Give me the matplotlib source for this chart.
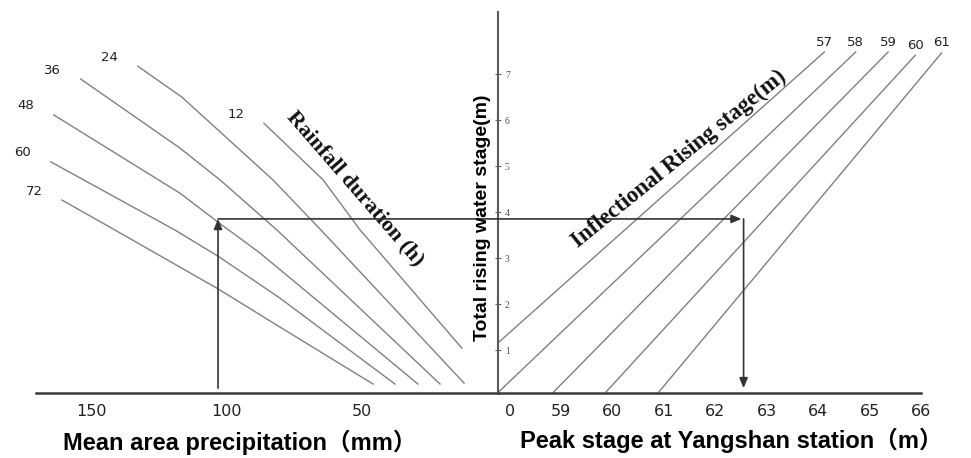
from pathlib import Path

import matplotlib.pyplot as plt

# left panel: rainfall duration curves (precipitation mm vs total rise m)
rain_hours = [72, 60, 48, 36, 24, 12]
rain_precip = [
    [161.1, 141.5, 103.3, 80.4, 45.9],
    [165.2, 119.3, 103.3, 80.4, 37.8],
    [164.1, 117.4, 103.3, 87.8, 29.3],
    [154.1, 117.4, 102.6, 81.5, 21.1],
    [133.0, 116.7, 83.0, 65.2, 12.2],
    [86.3, 64.4, 50.7, 13.0],
]
rain_stage = [
    [4.26, 3.61, 2.33, 1.50, 0.26],
    [5.09, 3.61, 3.04, 2.13, 0.26],
    [6.11, 4.41, 3.78, 3.11, 0.26],
    [6.89, 5.39, 4.70, 3.61, 0.26],
    [7.17, 6.50, 4.70, 3.61, 0.28],
    [5.93, 4.70, 3.61, 1.04],
]

# right panel: inflectional rising stage lines (peak stage m vs total rise m)
inflect_levels = [57, 58, 59, 60, 61]
inflect_peak = [
    [57.77, 64.12],
    [57.77, 64.73],
    [58.84, 65.36],
    [59.86, 65.89],
    [60.89, 66.40],
]
inflect_stage = [
    [1.15, 7.48],
    [0.07, 7.48],
    [0.07, 7.48],
    [0.07, 7.41],
    [0.07, 7.46],
]

precip_ticks = [150, 100, 50]
peak_ticks = [58, 59, 60, 61, 62, 63, 64, 65, 66]
peak_tick_labels = ["0", "59", "60", "61", "62", "63", "64", "65", "66"]
stage_ticks = [1, 2, 3, 4, 5, 6, 7]

# worked example read through the nomogram
example_precip = 103.3
example_stage = 3.85
example_peak = 62.55
example_base = 0.17

W, H = 971, 458
LINE = "#808080"
AXIS = "#3a3a3a"
BOLD_SANS = ["Liberation Sans", "Noto Sans CJK SC"]
BOLD_SERIF = ["Liberation Serif", "DejaVu Serif"]


def px_box(x0, y0, x1, y1):
    # figure box from pixel edges (top-left origin)
    return [x0 / W, 1 - y1 / H, (x1 - x0) / W, (y1 - y0) / H]


def arrow(ax, xy, xytext, textcoords="data"):
    ax.annotate(
        "",
        xy=xy,
        xytext=xytext,
        textcoords=textcoords,
        annotation_clip=False,
        arrowprops=dict(
            arrowstyle="-|>,head_length=0.6,head_width=0.25",
            mutation_scale=10,
            color="#333333",
            lw=1.2,
            shrinkA=0,
            shrinkB=0,
        ),
    )


def main() -> None:
    fig = plt.figure(figsize=(W / 100, H / 100), dpi=100)

    ax_l = fig.add_axes(px_box(36, 0, 498, 393))
    ax_r = fig.add_axes(px_box(498, 12, 921, 393))

    ax_l.set_xlim(170.7, -0.37)
    ax_l.set_ylim(0.065, 8.61)
    ax_r.set_xlim(57.774, 65.82)
    ax_r.set_ylim(0.065, 8.35)

    for ax in (ax_l, ax_r):
        ax.patch.set_visible(False)
        for side in ("top", "right", "left"):
            ax.spines[side].set_visible(False)
        ax.spines["bottom"].set_color(AXIS)
        ax.spines["bottom"].set_linewidth(1.8)
    ax_l.set_yticks([])
    ax_r.spines["left"].set_visible(True)
    ax_r.spines["left"].set_color("#5a5a5a")
    ax_r.spines["left"].set_linewidth(1.5)

    # bottom tick labels
    ax_l.set_xticks(precip_ticks)
    ax_l.set_xticklabels([str(v) for v in precip_ticks])
    ax_r.set_xticks(peak_ticks)
    ax_r.set_xticklabels(peak_tick_labels)
    for ax in (ax_l, ax_r):
        ax.tick_params(axis="x", length=0, pad=8, labelsize=11.5, labelcolor="#222222")

    # vertical axis ticks with labels on the right of the spine
    ax_r.set_yticks(stage_ticks)
    ax_r.set_yticklabels([str(v) for v in stage_ticks], family=BOLD_SERIF)
    ax_r.tick_params(
        axis="y", direction="inout", length=5, width=0.8, color="#666666",
        pad=-11, labelsize=7, labelcolor="#555555",
    )

    # rainfall duration curves
    for hours, xs, ys in zip(rain_hours, rain_precip, rain_stage):
        ax_l.plot(xs, ys, color=LINE, lw=1.0, clip_on=False)
        ax_l.annotate(
            str(hours), xy=(xs[0], ys[0]), xytext=(-28, 9), textcoords="offset pixels",
            ha="center", va="center", fontsize=9.5, color="#222222",
            annotation_clip=False,
        )

    # inflectional rising stage lines
    for level, xs, ys in zip(inflect_levels, inflect_peak, inflect_stage):
        ax_r.plot(xs, ys, color=LINE, lw=1.0, clip_on=False)
        ax_r.annotate(
            str(level), xy=(xs[-1], ys[-1]), xytext=(0, 10), textcoords="offset pixels",
            ha="center", va="center", fontsize=9.5, color="#222222",
            annotation_clip=False,
        )

    # example path
    arrow(ax_l, (example_precip, example_stage), (example_precip, example_base))
    arrow(ax_r, (example_peak - 0.04, example_stage), (example_precip, example_stage),
          textcoords=ax_l.transData)
    arrow(ax_r, (example_peak, example_base), (example_peak, example_stage))

    # in-plot titles
    ax_l.text(52.6, 4.52, "Rainfall duration (h)", rotation=-49, ha="center", va="center",
              fontsize=16, fontweight="bold", family=BOLD_SERIF, color="#111111")
    ax_r.text(61.3, 5.15, "Inflectional Rising stage(m)", rotation=39, ha="center",
              va="center", fontsize=16.5, fontweight="bold", family=BOLD_SERIF, color="#111111")

    fig.text(482 / W, 1 - 218 / H, "Total rising water stage(m)", rotation=90,
             ha="center", va="center", fontsize=14, fontweight="bold", family=BOLD_SANS)
    fig.text(240 / W, 1 - 442 / H, "Mean area precipitation（mm）", ha="center",
             va="center", fontsize=17, fontweight="bold", family=BOLD_SANS)
    fig.text(731 / W, 1 - 440 / H, "Peak stage at Yangshan station（m）", ha="center",
             va="center", fontsize=17, fontweight="bold", family=BOLD_SANS)

    fig.savefig(Path("out.png"), dpi=100, facecolor="white")
    plt.close(fig)


if __name__ == "__main__":
    main()
